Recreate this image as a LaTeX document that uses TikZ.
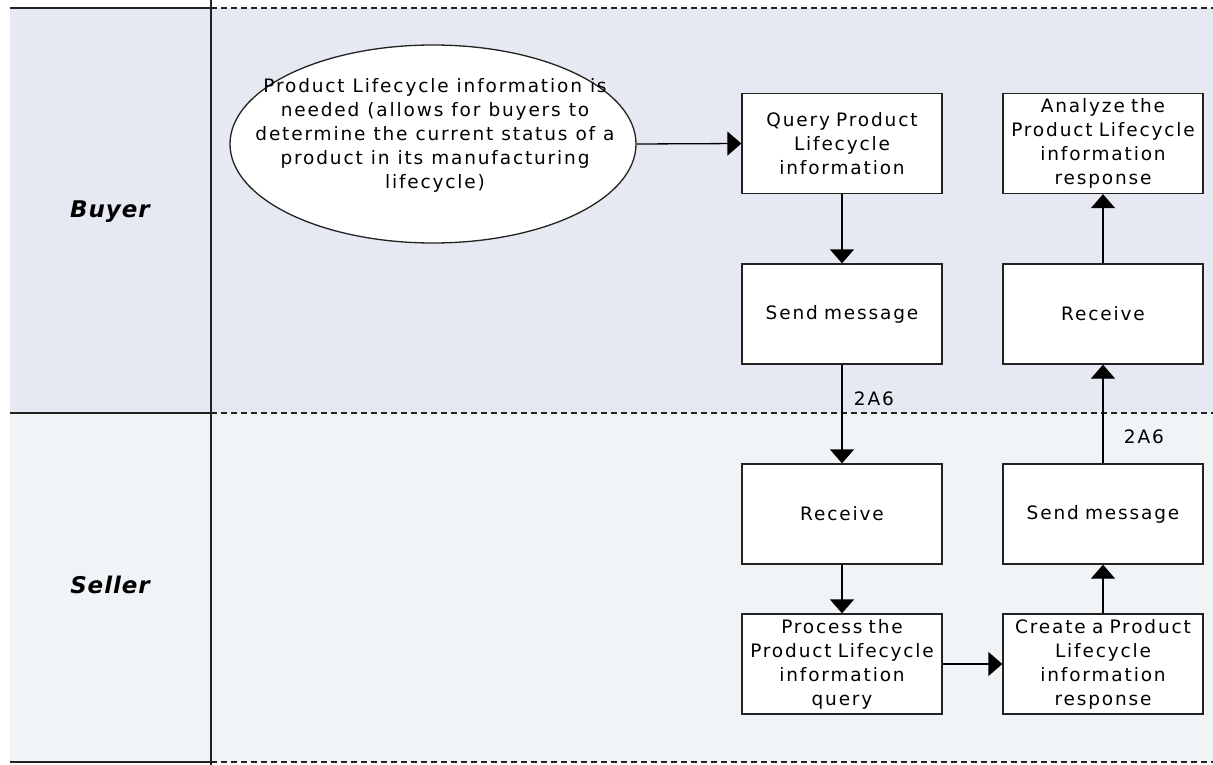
\documentclass[tikz,border=0pt]{standalone}
\usepackage{fontspec}
\setmainfont{DejaVu Sans}
\newfontfamily\diagfont[LetterSpace=10]{DejaVu Sans}
\newfontfamily\lanefont[LetterSpace=4]{DejaVu Sans}
\newcommand\diagtextfont{\diagfont\fontsize{18.5}{24}\selectfont\setlength{\spaceskip}{8pt plus 2pt minus 2pt}}
\usetikzlibrary{arrows.meta,shapes.geometric}
\definecolor{buyerbg}{HTML}{E6E9F1}
\definecolor{sellerbg}{HTML}{F0F4F7}
\definecolor{linec}{HTML}{222222}
\tikzset{
  x=1pt,y=-1pt,
  txt/.style={font=\diagtextfont},
  stepbox/.style={txt,draw=linec,line width=1.3pt,fill=white,minimum width=200pt,minimum height=100pt,
     align=center,inner sep=0pt,text width=200pt},
  flow/.style={draw=black,line width=1.3pt,-{Triangle[width=24pt,length=14pt]}},
  lanelabel/.style={font=\lanefont\fontsize{23}{26}\selectfont\bfseries\itshape},
  lbl/.style={txt},
  divsolid/.style={draw=linec,line width=1.5pt},
  divdash/.style={draw=linec,line width=1.3pt,dash pattern=on 6pt off 4pt},
}
\begin{document}
\begin{tikzpicture}
\useasboundingbox (0,0) rectangle (1213,765);
\fill[white] (0,0) rectangle (1213,765);
\fill[buyerbg] (10,8) rectangle (1213,413);
\fill[sellerbg] (10,413) rectangle (1213,762);
% lane lines
\draw[divsolid] (10,8) -- (211,8);
\draw[divsolid] (10,413) -- (211,413);
\draw[divsolid] (10,762) -- (211,762);
\draw[divdash] (211,8) -- (1213,8);
\draw[divdash] (211,413) -- (1213,413);
\draw[divdash] (211,762) -- (1213,762);
\draw[divsolid] (211,0) -- (211,765);
% lane labels
\node[lanelabel] (buyer) at (110,212) {Buyer};
\node[lanelabel] (seller) at (110,585) {Seller};
% start ellipse
\node[draw=linec,line width=1.3pt,fill=white,ellipse,minimum width=406pt,minimum height=198pt,inner sep=0pt] (start) at (433,144) {};
\node[txt,align=center,inner sep=0pt] (starttext) at (435,135)
  {Product Lifecycle information is\\needed (allows for buyers to\\determine the current status of a\\product in its manufacturing\\lifecycle)};
% boxes
\node[stepbox] (query) at (842,143.5) {Query Product\\Lifecycle\\information};
\node[stepbox] (analyze) at (1103,143.5) {Analyze the\\Product Lifecycle\\information\\response};
\node[stepbox] (sendb) at (842,314) {Send message};
\node[stepbox] (recvb) at (1103,314) {Receive};
\node[stepbox] (recvs) at (842,514) {Receive};
\node[stepbox] (sends) at (1103,514) {Send message};
\node[stepbox] (proc) at (842,664) {Process the\\Product Lifecycle\\information\\query};
\node[stepbox] (create) at (1103,664) {Create a Product\\Lifecycle\\information\\response};
% connectors
\draw[flow] (start.east) -- (query.west);
\draw[flow] (query.south) -- (sendb.north);
\draw[flow] (sendb.south) -- node[lbl,pos=0.35,right=8pt] (l1) {2A6} (recvs.north);
\draw[flow] (recvs.south) -- (proc.north);
\draw[flow] (proc.east) -- (create.west);
\draw[flow] (create.north) -- (sends.south);
\draw[flow] (sends.north) -- node[lbl,pos=0.27,right=17pt] (l2) {2A6} (recvb.south);
\draw[flow] (recvb.north) -- (analyze.south);
\end{tikzpicture}
\end{document}
